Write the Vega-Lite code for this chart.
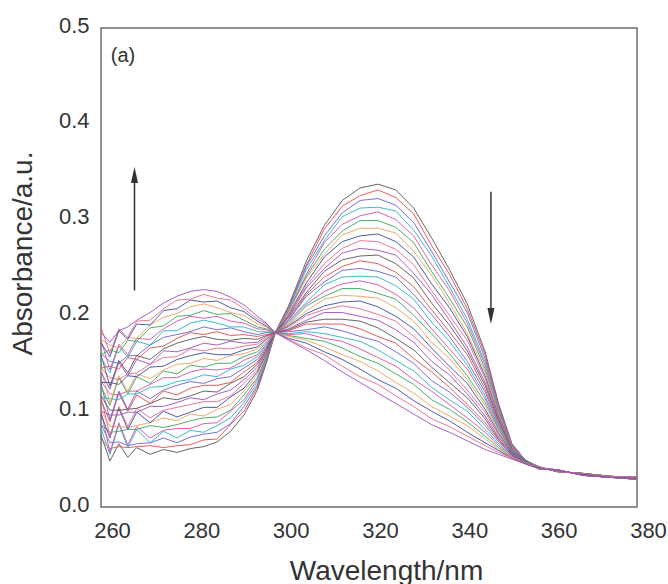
{
"$schema":"https://vega.github.io/schema/vega-lite/v6.json",
"width":536,"height":479,
"autosize":{"type":"none"},
"padding":{"left":101,"top":28,"right":31,"bottom":77},
"background":"white",
"config":{"view":{"stroke":"#6e6e6e","strokeWidth":1.5},"font":"Liberation Sans"},
"datasets":{
"spectra":[
{"k":0,"w":260,"a":0.075},{"k":1,"w":260,"a":0.071},{"k":2,"w":260,"a":0.086},{"k":3,"w":260,"a":0.082},{"k":4,"w":260,"a":0.100},{"k":5,"w":260,"a":0.086},{"k":6,"w":260,"a":0.101},{"k":7,"w":260,"a":0.097},{"k":8,"w":260,"a":0.115},{"k":9,"w":260,"a":0.100},{"k":10,"w":260,"a":0.116},{"k":11,"w":260,"a":0.112},{"k":12,"w":260,"a":0.129},{"k":13,"w":260,"a":0.115},{"k":14,"w":260,"a":0.131},{"k":15,"w":260,"a":0.126},{"k":16,"w":260,"a":0.144},{"k":17,"w":260,"a":0.130},{"k":18,"w":260,"a":0.145},{"k":19,"w":260,"a":0.141},{"k":20,"w":260,"a":0.159},{"k":21,"w":260,"a":0.145},{"k":22,"w":260,"a":0.160},{"k":23,"w":260,"a":0.156},{"k":24,"w":260,"a":0.174},{"k":25,"w":260,"a":0.159},{"k":26,"w":260,"a":0.175},{"k":27,"w":260,"a":0.171},{"k":28,"w":260,"a":0.188},{"k":29,"w":260,"a":0.182},
{"k":0,"w":262,"a":0.048},{"k":1,"w":262,"a":0.061},{"k":2,"w":262,"a":0.067},{"k":3,"w":262,"a":0.055},{"k":4,"w":262,"a":0.057},{"k":5,"w":262,"a":0.078},{"k":6,"w":262,"a":0.084},{"k":7,"w":262,"a":0.072},{"k":8,"w":262,"a":0.074},{"k":9,"w":262,"a":0.096},{"k":10,"w":262,"a":0.101},{"k":11,"w":262,"a":0.089},{"k":12,"w":262,"a":0.091},{"k":13,"w":262,"a":0.113},{"k":14,"w":262,"a":0.118},{"k":15,"w":262,"a":0.106},{"k":16,"w":262,"a":0.108},{"k":17,"w":262,"a":0.130},{"k":18,"w":262,"a":0.135},{"k":19,"w":262,"a":0.123},{"k":20,"w":262,"a":0.126},{"k":21,"w":262,"a":0.147},{"k":22,"w":262,"a":0.152},{"k":23,"w":262,"a":0.140},{"k":24,"w":262,"a":0.143},{"k":25,"w":262,"a":0.164},{"k":26,"w":262,"a":0.169},{"k":27,"w":262,"a":0.157},{"k":28,"w":262,"a":0.160},{"k":29,"w":262,"a":0.172},
{"k":0,"w":264,"a":0.066},{"k":1,"w":264,"a":0.063},{"k":2,"w":264,"a":0.068},{"k":3,"w":264,"a":0.086},{"k":4,"w":264,"a":0.088},{"k":5,"w":264,"a":0.079},{"k":6,"w":264,"a":0.084},{"k":7,"w":264,"a":0.103},{"k":8,"w":264,"a":0.105},{"k":9,"w":264,"a":0.096},{"k":10,"w":264,"a":0.101},{"k":11,"w":264,"a":0.119},{"k":12,"w":264,"a":0.121},{"k":13,"w":264,"a":0.112},{"k":14,"w":264,"a":0.117},{"k":15,"w":264,"a":0.135},{"k":16,"w":264,"a":0.137},{"k":17,"w":264,"a":0.128},{"k":18,"w":264,"a":0.133},{"k":19,"w":264,"a":0.151},{"k":20,"w":264,"a":0.153},{"k":21,"w":264,"a":0.144},{"k":22,"w":264,"a":0.150},{"k":23,"w":264,"a":0.168},{"k":24,"w":264,"a":0.170},{"k":25,"w":264,"a":0.161},{"k":26,"w":264,"a":0.166},{"k":27,"w":264,"a":0.184},{"k":28,"w":264,"a":0.186},{"k":29,"w":264,"a":0.184},
{"k":0,"w":266,"a":0.052},{"k":1,"w":266,"a":0.062},{"k":2,"w":266,"a":0.064},{"k":3,"w":266,"a":0.062},{"k":4,"w":266,"a":0.065},{"k":5,"w":266,"a":0.081},{"k":6,"w":266,"a":0.083},{"k":7,"w":266,"a":0.081},{"k":8,"w":266,"a":0.084},{"k":9,"w":266,"a":0.099},{"k":10,"w":266,"a":0.102},{"k":11,"w":266,"a":0.100},{"k":12,"w":266,"a":0.102},{"k":13,"w":266,"a":0.118},{"k":14,"w":266,"a":0.121},{"k":15,"w":266,"a":0.118},{"k":16,"w":266,"a":0.121},{"k":17,"w":266,"a":0.137},{"k":18,"w":266,"a":0.139},{"k":19,"w":266,"a":0.137},{"k":20,"w":266,"a":0.140},{"k":21,"w":266,"a":0.156},{"k":22,"w":266,"a":0.158},{"k":23,"w":266,"a":0.156},{"k":24,"w":266,"a":0.159},{"k":25,"w":266,"a":0.174},{"k":26,"w":266,"a":0.177},{"k":27,"w":266,"a":0.175},{"k":28,"w":266,"a":0.177},{"k":29,"w":266,"a":0.188},
{"k":0,"w":268,"a":0.062},{"k":1,"w":268,"a":0.063},{"k":2,"w":268,"a":0.066},{"k":3,"w":268,"a":0.081},{"k":4,"w":268,"a":0.084},{"k":5,"w":268,"a":0.081},{"k":6,"w":268,"a":0.085},{"k":7,"w":268,"a":0.099},{"k":8,"w":268,"a":0.103},{"k":9,"w":268,"a":0.099},{"k":10,"w":268,"a":0.103},{"k":11,"w":268,"a":0.117},{"k":12,"w":268,"a":0.121},{"k":13,"w":268,"a":0.118},{"k":14,"w":268,"a":0.121},{"k":15,"w":268,"a":0.136},{"k":16,"w":268,"a":0.139},{"k":17,"w":268,"a":0.136},{"k":18,"w":268,"a":0.140},{"k":19,"w":268,"a":0.154},{"k":20,"w":268,"a":0.158},{"k":21,"w":268,"a":0.154},{"k":22,"w":268,"a":0.158},{"k":23,"w":268,"a":0.173},{"k":24,"w":268,"a":0.176},{"k":25,"w":268,"a":0.173},{"k":26,"w":268,"a":0.176},{"k":27,"w":268,"a":0.191},{"k":28,"w":268,"a":0.194},{"k":29,"w":268,"a":0.195},
{"k":0,"w":271,"a":0.055},{"k":1,"w":271,"a":0.064},{"k":2,"w":271,"a":0.067},{"k":3,"w":271,"a":0.067},{"k":4,"w":271,"a":0.072},{"k":5,"w":271,"a":0.085},{"k":6,"w":271,"a":0.088},{"k":7,"w":271,"a":0.088},{"k":8,"w":271,"a":0.093},{"k":9,"w":271,"a":0.105},{"k":10,"w":271,"a":0.108},{"k":11,"w":271,"a":0.108},{"k":12,"w":271,"a":0.113},{"k":13,"w":271,"a":0.125},{"k":14,"w":271,"a":0.128},{"k":15,"w":271,"a":0.129},{"k":16,"w":271,"a":0.134},{"k":17,"w":271,"a":0.146},{"k":18,"w":271,"a":0.149},{"k":19,"w":271,"a":0.149},{"k":20,"w":271,"a":0.154},{"k":21,"w":271,"a":0.166},{"k":22,"w":271,"a":0.169},{"k":23,"w":271,"a":0.169},{"k":24,"w":271,"a":0.175},{"k":25,"w":271,"a":0.187},{"k":26,"w":271,"a":0.190},{"k":27,"w":271,"a":0.190},{"k":28,"w":271,"a":0.195},{"k":29,"w":271,"a":0.203},
{"k":0,"w":274,"a":0.060},{"k":1,"w":274,"a":0.062},{"k":2,"w":274,"a":0.072},{"k":3,"w":274,"a":0.079},{"k":4,"w":274,"a":0.080},{"k":5,"w":274,"a":0.083},{"k":6,"w":274,"a":0.093},{"k":7,"w":274,"a":0.100},{"k":8,"w":274,"a":0.101},{"k":9,"w":274,"a":0.105},{"k":10,"w":274,"a":0.114},{"k":11,"w":274,"a":0.121},{"k":12,"w":274,"a":0.122},{"k":13,"w":274,"a":0.126},{"k":14,"w":274,"a":0.135},{"k":15,"w":274,"a":0.142},{"k":16,"w":274,"a":0.143},{"k":17,"w":274,"a":0.147},{"k":18,"w":274,"a":0.156},{"k":19,"w":274,"a":0.163},{"k":20,"w":274,"a":0.165},{"k":21,"w":274,"a":0.168},{"k":22,"w":274,"a":0.177},{"k":23,"w":274,"a":0.184},{"k":24,"w":274,"a":0.186},{"k":25,"w":274,"a":0.189},{"k":26,"w":274,"a":0.198},{"k":27,"w":274,"a":0.205},{"k":28,"w":274,"a":0.207},{"k":29,"w":274,"a":0.213},
{"k":0,"w":277,"a":0.057},{"k":1,"w":277,"a":0.064},{"k":2,"w":277,"a":0.067},{"k":3,"w":277,"a":0.072},{"k":4,"w":277,"a":0.082},{"k":5,"w":277,"a":0.086},{"k":6,"w":277,"a":0.090},{"k":7,"w":277,"a":0.094},{"k":8,"w":277,"a":0.104},{"k":9,"w":277,"a":0.109},{"k":10,"w":277,"a":0.112},{"k":11,"w":277,"a":0.117},{"k":12,"w":277,"a":0.127},{"k":13,"w":277,"a":0.131},{"k":14,"w":277,"a":0.135},{"k":15,"w":277,"a":0.139},{"k":16,"w":277,"a":0.149},{"k":17,"w":277,"a":0.154},{"k":18,"w":277,"a":0.157},{"k":19,"w":277,"a":0.162},{"k":20,"w":277,"a":0.171},{"k":21,"w":277,"a":0.176},{"k":22,"w":277,"a":0.180},{"k":23,"w":277,"a":0.184},{"k":24,"w":277,"a":0.194},{"k":25,"w":277,"a":0.199},{"k":26,"w":277,"a":0.202},{"k":27,"w":277,"a":0.207},{"k":28,"w":277,"a":0.216},{"k":29,"w":277,"a":0.220},
{"k":0,"w":280,"a":0.061},{"k":1,"w":280,"a":0.065},{"k":2,"w":280,"a":0.073},{"k":3,"w":280,"a":0.080},{"k":4,"w":280,"a":0.082},{"k":5,"w":280,"a":0.090},{"k":6,"w":280,"a":0.097},{"k":7,"w":280,"a":0.099},{"k":8,"w":280,"a":0.107},{"k":9,"w":280,"a":0.114},{"k":10,"w":280,"a":0.116},{"k":11,"w":280,"a":0.124},{"k":12,"w":280,"a":0.131},{"k":13,"w":280,"a":0.133},{"k":14,"w":280,"a":0.141},{"k":15,"w":280,"a":0.148},{"k":16,"w":280,"a":0.150},{"k":17,"w":280,"a":0.158},{"k":18,"w":280,"a":0.165},{"k":19,"w":280,"a":0.166},{"k":20,"w":280,"a":0.175},{"k":21,"w":280,"a":0.182},{"k":22,"w":280,"a":0.183},{"k":23,"w":280,"a":0.192},{"k":24,"w":280,"a":0.199},{"k":25,"w":280,"a":0.200},{"k":26,"w":280,"a":0.209},{"k":27,"w":280,"a":0.216},{"k":28,"w":280,"a":0.217},{"k":29,"w":280,"a":0.225},
{"k":0,"w":283,"a":0.063},{"k":1,"w":283,"a":0.070},{"k":2,"w":283,"a":0.076},{"k":3,"w":283,"a":0.078},{"k":4,"w":283,"a":0.087},{"k":5,"w":283,"a":0.093},{"k":6,"w":283,"a":0.095},{"k":7,"w":283,"a":0.104},{"k":8,"w":283,"a":0.110},{"k":9,"w":283,"a":0.112},{"k":10,"w":283,"a":0.121},{"k":11,"w":283,"a":0.127},{"k":12,"w":283,"a":0.129},{"k":13,"w":283,"a":0.138},{"k":14,"w":283,"a":0.144},{"k":15,"w":283,"a":0.146},{"k":16,"w":283,"a":0.155},{"k":17,"w":283,"a":0.161},{"k":18,"w":283,"a":0.163},{"k":19,"w":283,"a":0.171},{"k":20,"w":283,"a":0.178},{"k":21,"w":283,"a":0.180},{"k":22,"w":283,"a":0.188},{"k":23,"w":283,"a":0.195},{"k":24,"w":283,"a":0.197},{"k":25,"w":283,"a":0.205},{"k":26,"w":283,"a":0.212},{"k":27,"w":283,"a":0.214},{"k":28,"w":283,"a":0.222},{"k":29,"w":283,"a":0.227},
{"k":0,"w":286,"a":0.068},{"k":1,"w":286,"a":0.071},{"k":2,"w":286,"a":0.078},{"k":3,"w":286,"a":0.085},{"k":4,"w":286,"a":0.088},{"k":5,"w":286,"a":0.094},{"k":6,"w":286,"a":0.102},{"k":7,"w":286,"a":0.104},{"k":8,"w":286,"a":0.110},{"k":9,"w":286,"a":0.118},{"k":10,"w":286,"a":0.120},{"k":11,"w":286,"a":0.127},{"k":12,"w":286,"a":0.134},{"k":13,"w":286,"a":0.136},{"k":14,"w":286,"a":0.143},{"k":15,"w":286,"a":0.150},{"k":16,"w":286,"a":0.153},{"k":17,"w":286,"a":0.159},{"k":18,"w":286,"a":0.166},{"k":19,"w":286,"a":0.169},{"k":20,"w":286,"a":0.175},{"k":21,"w":286,"a":0.183},{"k":22,"w":286,"a":0.185},{"k":23,"w":286,"a":0.192},{"k":24,"w":286,"a":0.199},{"k":25,"w":286,"a":0.201},{"k":26,"w":286,"a":0.208},{"k":27,"w":286,"a":0.215},{"k":28,"w":286,"a":0.218},{"k":29,"w":286,"a":0.225},
{"k":0,"w":289,"a":0.079},{"k":1,"w":289,"a":0.086},{"k":2,"w":289,"a":0.087},{"k":3,"w":289,"a":0.093},{"k":4,"w":289,"a":0.100},{"k":5,"w":289,"a":0.101},{"k":6,"w":289,"a":0.107},{"k":7,"w":289,"a":0.115},{"k":8,"w":289,"a":0.116},{"k":9,"w":289,"a":0.122},{"k":10,"w":289,"a":0.129},{"k":11,"w":289,"a":0.130},{"k":12,"w":289,"a":0.136},{"k":13,"w":289,"a":0.144},{"k":14,"w":289,"a":0.145},{"k":15,"w":289,"a":0.150},{"k":16,"w":289,"a":0.158},{"k":17,"w":289,"a":0.159},{"k":18,"w":289,"a":0.165},{"k":19,"w":289,"a":0.173},{"k":20,"w":289,"a":0.174},{"k":21,"w":289,"a":0.179},{"k":22,"w":289,"a":0.187},{"k":23,"w":289,"a":0.188},{"k":24,"w":289,"a":0.194},{"k":25,"w":289,"a":0.202},{"k":26,"w":289,"a":0.203},{"k":27,"w":289,"a":0.208},{"k":28,"w":289,"a":0.216},{"k":29,"w":289,"a":0.219},
{"k":0,"w":292,"a":0.096},{"k":1,"w":292,"a":0.100},{"k":2,"w":292,"a":0.105},{"k":3,"w":292,"a":0.109},{"k":4,"w":292,"a":0.112},{"k":5,"w":292,"a":0.117},{"k":6,"w":292,"a":0.121},{"k":7,"w":292,"a":0.124},{"k":8,"w":292,"a":0.129},{"k":9,"w":292,"a":0.133},{"k":10,"w":292,"a":0.136},{"k":11,"w":292,"a":0.141},{"k":12,"w":292,"a":0.145},{"k":13,"w":292,"a":0.148},{"k":14,"w":292,"a":0.153},{"k":15,"w":292,"a":0.157},{"k":16,"w":292,"a":0.160},{"k":17,"w":292,"a":0.164},{"k":18,"w":292,"a":0.168},{"k":19,"w":292,"a":0.171},{"k":20,"w":292,"a":0.176},{"k":21,"w":292,"a":0.180},{"k":22,"w":292,"a":0.183},{"k":23,"w":292,"a":0.188},{"k":24,"w":292,"a":0.192},{"k":25,"w":292,"a":0.195},{"k":26,"w":292,"a":0.200},{"k":27,"w":292,"a":0.204},{"k":28,"w":292,"a":0.207},{"k":29,"w":292,"a":0.211},
{"k":0,"w":295,"a":0.122},{"k":1,"w":295,"a":0.125},{"k":2,"w":295,"a":0.127},{"k":3,"w":295,"a":0.130},{"k":4,"w":295,"a":0.133},{"k":5,"w":295,"a":0.135},{"k":6,"w":295,"a":0.138},{"k":7,"w":295,"a":0.141},{"k":8,"w":295,"a":0.143},{"k":9,"w":295,"a":0.146},{"k":10,"w":295,"a":0.149},{"k":11,"w":295,"a":0.151},{"k":12,"w":295,"a":0.154},{"k":13,"w":295,"a":0.157},{"k":14,"w":295,"a":0.159},{"k":15,"w":295,"a":0.162},{"k":16,"w":295,"a":0.165},{"k":17,"w":295,"a":0.167},{"k":18,"w":295,"a":0.170},{"k":19,"w":295,"a":0.172},{"k":20,"w":295,"a":0.175},{"k":21,"w":295,"a":0.178},{"k":22,"w":295,"a":0.180},{"k":23,"w":295,"a":0.183},{"k":24,"w":295,"a":0.186},{"k":25,"w":295,"a":0.188},{"k":26,"w":295,"a":0.191},{"k":27,"w":295,"a":0.194},{"k":28,"w":295,"a":0.196},{"k":29,"w":295,"a":0.199},
{"k":0,"w":297,"a":0.150},{"k":1,"w":297,"a":0.151},{"k":2,"w":297,"a":0.153},{"k":3,"w":297,"a":0.154},{"k":4,"w":297,"a":0.156},{"k":5,"w":297,"a":0.157},{"k":6,"w":297,"a":0.159},{"k":7,"w":297,"a":0.160},{"k":8,"w":297,"a":0.162},{"k":9,"w":297,"a":0.163},{"k":10,"w":297,"a":0.164},{"k":11,"w":297,"a":0.166},{"k":12,"w":297,"a":0.167},{"k":13,"w":297,"a":0.169},{"k":14,"w":297,"a":0.170},{"k":15,"w":297,"a":0.172},{"k":16,"w":297,"a":0.173},{"k":17,"w":297,"a":0.175},{"k":18,"w":297,"a":0.176},{"k":19,"w":297,"a":0.178},{"k":20,"w":297,"a":0.179},{"k":21,"w":297,"a":0.180},{"k":22,"w":297,"a":0.182},{"k":23,"w":297,"a":0.183},{"k":24,"w":297,"a":0.185},{"k":25,"w":297,"a":0.186},{"k":26,"w":297,"a":0.188},{"k":27,"w":297,"a":0.189},{"k":28,"w":297,"a":0.191},{"k":29,"w":297,"a":0.192},
{"k":0,"w":299,"a":0.182},{"k":1,"w":299,"a":0.182},{"k":2,"w":299,"a":0.182},{"k":3,"w":299,"a":0.182},{"k":4,"w":299,"a":0.182},{"k":5,"w":299,"a":0.182},{"k":6,"w":299,"a":0.182},{"k":7,"w":299,"a":0.182},{"k":8,"w":299,"a":0.182},{"k":9,"w":299,"a":0.182},{"k":10,"w":299,"a":0.182},{"k":11,"w":299,"a":0.182},{"k":12,"w":299,"a":0.182},{"k":13,"w":299,"a":0.182},{"k":14,"w":299,"a":0.182},{"k":15,"w":299,"a":0.182},{"k":16,"w":299,"a":0.182},{"k":17,"w":299,"a":0.182},{"k":18,"w":299,"a":0.182},{"k":19,"w":299,"a":0.182},{"k":20,"w":299,"a":0.182},{"k":21,"w":299,"a":0.182},{"k":22,"w":299,"a":0.182},{"k":23,"w":299,"a":0.182},{"k":24,"w":299,"a":0.182},{"k":25,"w":299,"a":0.182},{"k":26,"w":299,"a":0.182},{"k":27,"w":299,"a":0.182},{"k":28,"w":299,"a":0.182},{"k":29,"w":299,"a":0.182},
{"k":0,"w":302,"a":0.210},{"k":1,"w":302,"a":0.209},{"k":2,"w":302,"a":0.208},{"k":3,"w":302,"a":0.206},{"k":4,"w":302,"a":0.205},{"k":5,"w":302,"a":0.204},{"k":6,"w":302,"a":0.203},{"k":7,"w":302,"a":0.201},{"k":8,"w":302,"a":0.200},{"k":9,"w":302,"a":0.199},{"k":10,"w":302,"a":0.198},{"k":11,"w":302,"a":0.196},{"k":12,"w":302,"a":0.195},{"k":13,"w":302,"a":0.194},{"k":14,"w":302,"a":0.193},{"k":15,"w":302,"a":0.191},{"k":16,"w":302,"a":0.190},{"k":17,"w":302,"a":0.189},{"k":18,"w":302,"a":0.188},{"k":19,"w":302,"a":0.186},{"k":20,"w":302,"a":0.185},{"k":21,"w":302,"a":0.184},{"k":22,"w":302,"a":0.183},{"k":23,"w":302,"a":0.181},{"k":24,"w":302,"a":0.180},{"k":25,"w":302,"a":0.179},{"k":26,"w":302,"a":0.178},{"k":27,"w":302,"a":0.176},{"k":28,"w":302,"a":0.175},{"k":29,"w":302,"a":0.174},
{"k":0,"w":306,"a":0.257},{"k":1,"w":306,"a":0.253},{"k":2,"w":306,"a":0.251},{"k":3,"w":306,"a":0.248},{"k":4,"w":306,"a":0.243},{"k":5,"w":306,"a":0.241},{"k":6,"w":306,"a":0.239},{"k":7,"w":306,"a":0.234},{"k":8,"w":306,"a":0.231},{"k":9,"w":306,"a":0.229},{"k":10,"w":306,"a":0.224},{"k":11,"w":306,"a":0.222},{"k":12,"w":306,"a":0.220},{"k":13,"w":306,"a":0.214},{"k":14,"w":306,"a":0.212},{"k":15,"w":306,"a":0.210},{"k":16,"w":306,"a":0.205},{"k":17,"w":306,"a":0.202},{"k":18,"w":306,"a":0.200},{"k":19,"w":306,"a":0.195},{"k":20,"w":306,"a":0.193},{"k":21,"w":306,"a":0.191},{"k":22,"w":306,"a":0.185},{"k":23,"w":306,"a":0.183},{"k":24,"w":306,"a":0.181},{"k":25,"w":306,"a":0.176},{"k":26,"w":306,"a":0.174},{"k":27,"w":306,"a":0.171},{"k":28,"w":306,"a":0.166},{"k":29,"w":306,"a":0.164},
{"k":0,"w":310,"a":0.294},{"k":1,"w":310,"a":0.290},{"k":2,"w":310,"a":0.283},{"k":3,"w":310,"a":0.278},{"k":4,"w":310,"a":0.276},{"k":5,"w":310,"a":0.269},{"k":6,"w":310,"a":0.264},{"k":7,"w":310,"a":0.261},{"k":8,"w":310,"a":0.254},{"k":9,"w":310,"a":0.249},{"k":10,"w":310,"a":0.246},{"k":11,"w":310,"a":0.240},{"k":12,"w":310,"a":0.235},{"k":13,"w":310,"a":0.232},{"k":14,"w":310,"a":0.225},{"k":15,"w":310,"a":0.220},{"k":16,"w":310,"a":0.217},{"k":17,"w":310,"a":0.210},{"k":18,"w":310,"a":0.206},{"k":19,"w":310,"a":0.203},{"k":20,"w":310,"a":0.196},{"k":21,"w":310,"a":0.191},{"k":22,"w":310,"a":0.188},{"k":23,"w":310,"a":0.181},{"k":24,"w":310,"a":0.176},{"k":25,"w":310,"a":0.173},{"k":26,"w":310,"a":0.167},{"k":27,"w":310,"a":0.162},{"k":28,"w":310,"a":0.159},{"k":29,"w":310,"a":0.153},
{"k":0,"w":314,"a":0.320},{"k":1,"w":314,"a":0.314},{"k":2,"w":314,"a":0.307},{"k":3,"w":314,"a":0.303},{"k":4,"w":314,"a":0.295},{"k":5,"w":314,"a":0.288},{"k":6,"w":314,"a":0.284},{"k":7,"w":314,"a":0.277},{"k":8,"w":314,"a":0.270},{"k":9,"w":314,"a":0.265},{"k":10,"w":314,"a":0.258},{"k":11,"w":314,"a":0.251},{"k":12,"w":314,"a":0.247},{"k":13,"w":314,"a":0.240},{"k":14,"w":314,"a":0.233},{"k":15,"w":314,"a":0.228},{"k":16,"w":314,"a":0.221},{"k":17,"w":314,"a":0.214},{"k":18,"w":314,"a":0.210},{"k":19,"w":314,"a":0.203},{"k":20,"w":314,"a":0.196},{"k":21,"w":314,"a":0.191},{"k":22,"w":314,"a":0.184},{"k":23,"w":314,"a":0.177},{"k":24,"w":314,"a":0.173},{"k":25,"w":314,"a":0.166},{"k":26,"w":314,"a":0.159},{"k":27,"w":314,"a":0.154},{"k":28,"w":314,"a":0.147},{"k":29,"w":314,"a":0.141},
{"k":0,"w":318,"a":0.333},{"k":1,"w":318,"a":0.325},{"k":2,"w":318,"a":0.320},{"k":3,"w":318,"a":0.312},{"k":4,"w":318,"a":0.304},{"k":5,"w":318,"a":0.299},{"k":6,"w":318,"a":0.291},{"k":7,"w":318,"a":0.283},{"k":8,"w":318,"a":0.278},{"k":9,"w":318,"a":0.270},{"k":10,"w":318,"a":0.262},{"k":11,"w":318,"a":0.257},{"k":12,"w":318,"a":0.249},{"k":13,"w":318,"a":0.241},{"k":14,"w":318,"a":0.236},{"k":15,"w":318,"a":0.228},{"k":16,"w":318,"a":0.220},{"k":17,"w":318,"a":0.215},{"k":18,"w":318,"a":0.207},{"k":19,"w":318,"a":0.199},{"k":20,"w":318,"a":0.194},{"k":21,"w":318,"a":0.186},{"k":22,"w":318,"a":0.178},{"k":23,"w":318,"a":0.173},{"k":24,"w":318,"a":0.165},{"k":25,"w":318,"a":0.157},{"k":26,"w":318,"a":0.152},{"k":27,"w":318,"a":0.144},{"k":28,"w":318,"a":0.136},{"k":29,"w":318,"a":0.130},
{"k":0,"w":322,"a":0.337},{"k":1,"w":322,"a":0.331},{"k":2,"w":322,"a":0.322},{"k":3,"w":322,"a":0.313},{"k":4,"w":322,"a":0.308},{"k":5,"w":322,"a":0.299},{"k":6,"w":322,"a":0.291},{"k":7,"w":322,"a":0.285},{"k":8,"w":322,"a":0.277},{"k":9,"w":322,"a":0.268},{"k":10,"w":322,"a":0.263},{"k":11,"w":322,"a":0.254},{"k":12,"w":322,"a":0.246},{"k":13,"w":322,"a":0.240},{"k":14,"w":322,"a":0.232},{"k":15,"w":322,"a":0.223},{"k":16,"w":322,"a":0.218},{"k":17,"w":322,"a":0.209},{"k":18,"w":322,"a":0.201},{"k":19,"w":322,"a":0.195},{"k":20,"w":322,"a":0.187},{"k":21,"w":322,"a":0.178},{"k":22,"w":322,"a":0.173},{"k":23,"w":322,"a":0.164},{"k":24,"w":322,"a":0.156},{"k":25,"w":322,"a":0.150},{"k":26,"w":322,"a":0.142},{"k":27,"w":322,"a":0.133},{"k":28,"w":322,"a":0.128},{"k":29,"w":322,"a":0.119},
{"k":0,"w":326,"a":0.331},{"k":1,"w":326,"a":0.323},{"k":2,"w":326,"a":0.315},{"k":3,"w":326,"a":0.309},{"k":4,"w":326,"a":0.300},{"k":5,"w":326,"a":0.292},{"k":6,"w":326,"a":0.286},{"k":7,"w":326,"a":0.277},{"k":8,"w":326,"a":0.269},{"k":9,"w":326,"a":0.263},{"k":10,"w":326,"a":0.254},{"k":11,"w":326,"a":0.245},{"k":12,"w":326,"a":0.240},{"k":13,"w":326,"a":0.231},{"k":14,"w":326,"a":0.222},{"k":15,"w":326,"a":0.217},{"k":16,"w":326,"a":0.208},{"k":17,"w":326,"a":0.199},{"k":18,"w":326,"a":0.194},{"k":19,"w":326,"a":0.185},{"k":20,"w":326,"a":0.176},{"k":21,"w":326,"a":0.171},{"k":22,"w":326,"a":0.162},{"k":23,"w":326,"a":0.153},{"k":24,"w":326,"a":0.147},{"k":25,"w":326,"a":0.139},{"k":26,"w":326,"a":0.130},{"k":27,"w":326,"a":0.124},{"k":28,"w":326,"a":0.116},{"k":29,"w":326,"a":0.108},
{"k":0,"w":330,"a":0.312},{"k":1,"w":330,"a":0.306},{"k":2,"w":330,"a":0.297},{"k":3,"w":330,"a":0.289},{"k":4,"w":330,"a":0.283},{"k":5,"w":330,"a":0.276},{"k":6,"w":330,"a":0.267},{"k":7,"w":330,"a":0.261},{"k":8,"w":330,"a":0.253},{"k":9,"w":330,"a":0.244},{"k":10,"w":330,"a":0.239},{"k":11,"w":330,"a":0.230},{"k":12,"w":330,"a":0.222},{"k":13,"w":330,"a":0.217},{"k":14,"w":330,"a":0.208},{"k":15,"w":330,"a":0.200},{"k":16,"w":330,"a":0.194},{"k":17,"w":330,"a":0.186},{"k":18,"w":330,"a":0.178},{"k":19,"w":330,"a":0.172},{"k":20,"w":330,"a":0.164},{"k":21,"w":330,"a":0.155},{"k":22,"w":330,"a":0.150},{"k":23,"w":330,"a":0.142},{"k":24,"w":330,"a":0.133},{"k":25,"w":330,"a":0.128},{"k":26,"w":330,"a":0.119},{"k":27,"w":330,"a":0.111},{"k":28,"w":330,"a":0.105},{"k":29,"w":330,"a":0.097},
{"k":0,"w":334,"a":0.281},{"k":1,"w":334,"a":0.273},{"k":2,"w":334,"a":0.267},{"k":3,"w":334,"a":0.262},{"k":4,"w":334,"a":0.253},{"k":5,"w":334,"a":0.246},{"k":6,"w":334,"a":0.242},{"k":7,"w":334,"a":0.233},{"k":8,"w":334,"a":0.226},{"k":9,"w":334,"a":0.222},{"k":10,"w":334,"a":0.213},{"k":11,"w":334,"a":0.206},{"k":12,"w":334,"a":0.201},{"k":13,"w":334,"a":0.193},{"k":14,"w":334,"a":0.186},{"k":15,"w":334,"a":0.181},{"k":16,"w":334,"a":0.172},{"k":17,"w":334,"a":0.166},{"k":18,"w":334,"a":0.161},{"k":19,"w":334,"a":0.152},{"k":20,"w":334,"a":0.146},{"k":21,"w":334,"a":0.141},{"k":22,"w":334,"a":0.132},{"k":23,"w":334,"a":0.125},{"k":24,"w":334,"a":0.121},{"k":25,"w":334,"a":0.112},{"k":26,"w":334,"a":0.105},{"k":27,"w":334,"a":0.100},{"k":28,"w":334,"a":0.092},{"k":29,"w":334,"a":0.086},
{"k":0,"w":338,"a":0.248},{"k":1,"w":338,"a":0.243},{"k":2,"w":338,"a":0.235},{"k":3,"w":338,"a":0.230},{"k":4,"w":338,"a":0.226},{"k":5,"w":338,"a":0.218},{"k":6,"w":338,"a":0.213},{"k":7,"w":338,"a":0.208},{"k":8,"w":338,"a":0.200},{"k":9,"w":338,"a":0.195},{"k":10,"w":338,"a":0.190},{"k":11,"w":338,"a":0.183},{"k":12,"w":338,"a":0.178},{"k":13,"w":338,"a":0.173},{"k":14,"w":338,"a":0.165},{"k":15,"w":338,"a":0.160},{"k":16,"w":338,"a":0.155},{"k":17,"w":338,"a":0.147},{"k":18,"w":338,"a":0.143},{"k":19,"w":338,"a":0.138},{"k":20,"w":338,"a":0.130},{"k":21,"w":338,"a":0.125},{"k":22,"w":338,"a":0.120},{"k":23,"w":338,"a":0.112},{"k":24,"w":338,"a":0.107},{"k":25,"w":338,"a":0.102},{"k":26,"w":338,"a":0.095},{"k":27,"w":338,"a":0.090},{"k":28,"w":338,"a":0.084},{"k":29,"w":338,"a":0.078},
{"k":0,"w":342,"a":0.212},{"k":1,"w":342,"a":0.207},{"k":2,"w":342,"a":0.203},{"k":3,"w":342,"a":0.196},{"k":4,"w":342,"a":0.192},{"k":5,"w":342,"a":0.188},{"k":6,"w":342,"a":0.181},{"k":7,"w":342,"a":0.178},{"k":8,"w":342,"a":0.174},{"k":9,"w":342,"a":0.167},{"k":10,"w":342,"a":0.163},{"k":11,"w":342,"a":0.159},{"k":12,"w":342,"a":0.152},{"k":13,"w":342,"a":0.148},{"k":14,"w":342,"a":0.144},{"k":15,"w":342,"a":0.137},{"k":16,"w":342,"a":0.133},{"k":17,"w":342,"a":0.129},{"k":18,"w":342,"a":0.122},{"k":19,"w":342,"a":0.118},{"k":20,"w":342,"a":0.114},{"k":21,"w":342,"a":0.107},{"k":22,"w":342,"a":0.104},{"k":23,"w":342,"a":0.100},{"k":24,"w":342,"a":0.093},{"k":25,"w":342,"a":0.089},{"k":26,"w":342,"a":0.085},{"k":27,"w":342,"a":0.078},{"k":28,"w":342,"a":0.074},{"k":29,"w":342,"a":0.069},
{"k":0,"w":346,"a":0.162},{"k":1,"w":346,"a":0.159},{"k":2,"w":346,"a":0.155},{"k":3,"w":346,"a":0.151},{"k":4,"w":346,"a":0.148},{"k":5,"w":346,"a":0.144},{"k":6,"w":346,"a":0.141},{"k":7,"w":346,"a":0.137},{"k":8,"w":346,"a":0.134},{"k":9,"w":346,"a":0.130},{"k":10,"w":346,"a":0.127},{"k":11,"w":346,"a":0.123},{"k":12,"w":346,"a":0.120},{"k":13,"w":346,"a":0.116},{"k":14,"w":346,"a":0.113},{"k":15,"w":346,"a":0.109},{"k":16,"w":346,"a":0.106},{"k":17,"w":346,"a":0.102},{"k":18,"w":346,"a":0.099},{"k":19,"w":346,"a":0.095},{"k":20,"w":346,"a":0.092},{"k":21,"w":346,"a":0.088},{"k":22,"w":346,"a":0.085},{"k":23,"w":346,"a":0.081},{"k":24,"w":346,"a":0.078},{"k":25,"w":346,"a":0.074},{"k":26,"w":346,"a":0.071},{"k":27,"w":346,"a":0.067},{"k":28,"w":346,"a":0.064},{"k":29,"w":346,"a":0.060},
{"k":0,"w":349,"a":0.108},{"k":1,"w":349,"a":0.106},{"k":2,"w":349,"a":0.104},{"k":3,"w":349,"a":0.103},{"k":4,"w":349,"a":0.101},{"k":5,"w":349,"a":0.099},{"k":6,"w":349,"a":0.097},{"k":7,"w":349,"a":0.095},{"k":8,"w":349,"a":0.093},{"k":9,"w":349,"a":0.092},{"k":10,"w":349,"a":0.090},{"k":11,"w":349,"a":0.088},{"k":12,"w":349,"a":0.086},{"k":13,"w":349,"a":0.084},{"k":14,"w":349,"a":0.082},{"k":15,"w":349,"a":0.081},{"k":16,"w":349,"a":0.079},{"k":17,"w":349,"a":0.077},{"k":18,"w":349,"a":0.075},{"k":19,"w":349,"a":0.073},{"k":20,"w":349,"a":0.071},{"k":21,"w":349,"a":0.070},{"k":22,"w":349,"a":0.068},{"k":23,"w":349,"a":0.066},{"k":24,"w":349,"a":0.064},{"k":25,"w":349,"a":0.062},{"k":26,"w":349,"a":0.060},{"k":27,"w":349,"a":0.059},{"k":28,"w":349,"a":0.057},{"k":29,"w":349,"a":0.055},
{"k":0,"w":352,"a":0.066},{"k":1,"w":352,"a":0.065},{"k":2,"w":352,"a":0.065},{"k":3,"w":352,"a":0.064},{"k":4,"w":352,"a":0.064},{"k":5,"w":352,"a":0.063},{"k":6,"w":352,"a":0.063},{"k":7,"w":352,"a":0.062},{"k":8,"w":352,"a":0.062},{"k":9,"w":352,"a":0.061},{"k":10,"w":352,"a":0.060},{"k":11,"w":352,"a":0.060},{"k":12,"w":352,"a":0.059},{"k":13,"w":352,"a":0.059},{"k":14,"w":352,"a":0.058},{"k":15,"w":352,"a":0.058},{"k":16,"w":352,"a":0.057},{"k":17,"w":352,"a":0.057},{"k":18,"w":352,"a":0.056},{"k":19,"w":352,"a":0.056},{"k":20,"w":352,"a":0.055},{"k":21,"w":352,"a":0.054},{"k":22,"w":352,"a":0.054},{"k":23,"w":352,"a":0.053},{"k":24,"w":352,"a":0.053},{"k":25,"w":352,"a":0.052},{"k":26,"w":352,"a":0.052},{"k":27,"w":352,"a":0.051},{"k":28,"w":352,"a":0.051},{"k":29,"w":352,"a":0.050},
{"k":0,"w":355,"a":0.049},{"k":1,"w":355,"a":0.049},{"k":2,"w":355,"a":0.049},{"k":3,"w":355,"a":0.049},{"k":4,"w":355,"a":0.048},{"k":5,"w":355,"a":0.048},{"k":6,"w":355,"a":0.048},{"k":7,"w":355,"a":0.048},{"k":8,"w":355,"a":0.048},{"k":9,"w":355,"a":0.048},{"k":10,"w":355,"a":0.048},{"k":11,"w":355,"a":0.047},{"k":12,"w":355,"a":0.047},{"k":13,"w":355,"a":0.047},{"k":14,"w":355,"a":0.047},{"k":15,"w":355,"a":0.047},{"k":16,"w":355,"a":0.047},{"k":17,"w":355,"a":0.047},{"k":18,"w":355,"a":0.047},{"k":19,"w":355,"a":0.046},{"k":20,"w":355,"a":0.046},{"k":21,"w":355,"a":0.046},{"k":22,"w":355,"a":0.046},{"k":23,"w":355,"a":0.046},{"k":24,"w":355,"a":0.046},{"k":25,"w":355,"a":0.046},{"k":26,"w":355,"a":0.045},{"k":27,"w":355,"a":0.045},{"k":28,"w":355,"a":0.045},{"k":29,"w":355,"a":0.045},
{"k":0,"w":358,"a":0.041},{"k":1,"w":358,"a":0.042},{"k":2,"w":358,"a":0.040},{"k":3,"w":358,"a":0.041},{"k":4,"w":358,"a":0.042},{"k":5,"w":358,"a":0.040},{"k":6,"w":358,"a":0.041},{"k":7,"w":358,"a":0.042},{"k":8,"w":358,"a":0.040},{"k":9,"w":358,"a":0.041},{"k":10,"w":358,"a":0.042},{"k":11,"w":358,"a":0.040},{"k":12,"w":358,"a":0.041},{"k":13,"w":358,"a":0.042},{"k":14,"w":358,"a":0.040},{"k":15,"w":358,"a":0.041},{"k":16,"w":358,"a":0.042},{"k":17,"w":358,"a":0.040},{"k":18,"w":358,"a":0.041},{"k":19,"w":358,"a":0.042},{"k":20,"w":358,"a":0.040},{"k":21,"w":358,"a":0.041},{"k":22,"w":358,"a":0.042},{"k":23,"w":358,"a":0.040},{"k":24,"w":358,"a":0.041},{"k":25,"w":358,"a":0.042},{"k":26,"w":358,"a":0.040},{"k":27,"w":358,"a":0.041},{"k":28,"w":358,"a":0.042},{"k":29,"w":358,"a":0.040},
{"k":0,"w":362,"a":0.038},{"k":1,"w":362,"a":0.037},{"k":2,"w":362,"a":0.039},{"k":3,"w":362,"a":0.038},{"k":4,"w":362,"a":0.037},{"k":5,"w":362,"a":0.039},{"k":6,"w":362,"a":0.038},{"k":7,"w":362,"a":0.037},{"k":8,"w":362,"a":0.039},{"k":9,"w":362,"a":0.038},{"k":10,"w":362,"a":0.037},{"k":11,"w":362,"a":0.039},{"k":12,"w":362,"a":0.038},{"k":13,"w":362,"a":0.037},{"k":14,"w":362,"a":0.039},{"k":15,"w":362,"a":0.038},{"k":16,"w":362,"a":0.037},{"k":17,"w":362,"a":0.039},{"k":18,"w":362,"a":0.038},{"k":19,"w":362,"a":0.037},{"k":20,"w":362,"a":0.039},{"k":21,"w":362,"a":0.038},{"k":22,"w":362,"a":0.037},{"k":23,"w":362,"a":0.039},{"k":24,"w":362,"a":0.038},{"k":25,"w":362,"a":0.037},{"k":26,"w":362,"a":0.039},{"k":27,"w":362,"a":0.038},{"k":28,"w":362,"a":0.037},{"k":29,"w":362,"a":0.039},
{"k":0,"w":368,"a":0.034},{"k":1,"w":368,"a":0.035},{"k":2,"w":368,"a":0.033},{"k":3,"w":368,"a":0.034},{"k":4,"w":368,"a":0.035},{"k":5,"w":368,"a":0.033},{"k":6,"w":368,"a":0.034},{"k":7,"w":368,"a":0.035},{"k":8,"w":368,"a":0.033},{"k":9,"w":368,"a":0.034},{"k":10,"w":368,"a":0.035},{"k":11,"w":368,"a":0.033},{"k":12,"w":368,"a":0.034},{"k":13,"w":368,"a":0.035},{"k":14,"w":368,"a":0.033},{"k":15,"w":368,"a":0.034},{"k":16,"w":368,"a":0.035},{"k":17,"w":368,"a":0.033},{"k":18,"w":368,"a":0.034},{"k":19,"w":368,"a":0.035},{"k":20,"w":368,"a":0.033},{"k":21,"w":368,"a":0.034},{"k":22,"w":368,"a":0.035},{"k":23,"w":368,"a":0.033},{"k":24,"w":368,"a":0.034},{"k":25,"w":368,"a":0.035},{"k":26,"w":368,"a":0.033},{"k":27,"w":368,"a":0.034},{"k":28,"w":368,"a":0.035},{"k":29,"w":368,"a":0.033},
{"k":0,"w":374,"a":0.031},{"k":1,"w":374,"a":0.032},{"k":2,"w":374,"a":0.031},{"k":3,"w":374,"a":0.031},{"k":4,"w":374,"a":0.032},{"k":5,"w":374,"a":0.031},{"k":6,"w":374,"a":0.031},{"k":7,"w":374,"a":0.032},{"k":8,"w":374,"a":0.031},{"k":9,"w":374,"a":0.031},{"k":10,"w":374,"a":0.032},{"k":11,"w":374,"a":0.031},{"k":12,"w":374,"a":0.031},{"k":13,"w":374,"a":0.032},{"k":14,"w":374,"a":0.031},{"k":15,"w":374,"a":0.031},{"k":16,"w":374,"a":0.032},{"k":17,"w":374,"a":0.031},{"k":18,"w":374,"a":0.031},{"k":19,"w":374,"a":0.032},{"k":20,"w":374,"a":0.031},{"k":21,"w":374,"a":0.031},{"k":22,"w":374,"a":0.032},{"k":23,"w":374,"a":0.031},{"k":24,"w":374,"a":0.031},{"k":25,"w":374,"a":0.032},{"k":26,"w":374,"a":0.031},{"k":27,"w":374,"a":0.031},{"k":28,"w":374,"a":0.032},{"k":29,"w":374,"a":0.031},
{"k":0,"w":380,"a":0.030},{"k":1,"w":380,"a":0.031},{"k":2,"w":380,"a":0.029},{"k":3,"w":380,"a":0.030},{"k":4,"w":380,"a":0.031},{"k":5,"w":380,"a":0.029},{"k":6,"w":380,"a":0.030},{"k":7,"w":380,"a":0.031},{"k":8,"w":380,"a":0.029},{"k":9,"w":380,"a":0.030},{"k":10,"w":380,"a":0.031},{"k":11,"w":380,"a":0.029},{"k":12,"w":380,"a":0.030},{"k":13,"w":380,"a":0.031},{"k":14,"w":380,"a":0.029},{"k":15,"w":380,"a":0.030},{"k":16,"w":380,"a":0.031},{"k":17,"w":380,"a":0.029},{"k":18,"w":380,"a":0.030},{"k":19,"w":380,"a":0.031},{"k":20,"w":380,"a":0.029},{"k":21,"w":380,"a":0.030},{"k":22,"w":380,"a":0.031},{"k":23,"w":380,"a":0.029},{"k":24,"w":380,"a":0.030},{"k":25,"w":380,"a":0.031},{"k":26,"w":380,"a":0.029},{"k":27,"w":380,"a":0.030},{"k":28,"w":380,"a":0.031},{"k":29,"w":380,"a":0.029}
],
"shafts":[{"w":267.5,"a":0.226,"a2":0.340},{"w":347.3,"a":0.329,"a2":0.205}],
"upHead":[{"w":267.5,"a":0.3466}],
"downHead":[{"w":347.3,"a":0.1993}],
"labels":[{"w":262.2,"a":0.471,"t":"(a)"}]
},
"layer":[
{"data":{"name":"spectra"},
 "mark":{"type":"line","strokeWidth":1,"opacity":0.9},
 "encoding":{
  "x":{"field":"w","type":"quantitative","title":"Wavelength/nm",
       "scale":{"domain":[260,380],"nice":false,"zero":false},
       "axis":{"values":[260,280,300,320,340,360,380],"format":"d","grid":false,"domain":false,"ticks":false,"tickSize":0,
               "labelFontSize":22,"labelColor":"#333333","labelPadding":30,"labelBaseline":"alphabetic","labelOffset":11,
               "labelFlush":false,"labelOverlap":false,"labelBound":false,
               "titleFontSize":28,"titleFontWeight":"normal","titleColor":"#333333","titleX":285,"titleY":72,"titleBaseline":"alphabetic","titleAlign":"center"}},
  "y":{"field":"a","type":"quantitative","title":"Absorbance/a.u.",
       "scale":{"domain":[0,0.5],"nice":false,"zero":false},
       "axis":{"values":[0,0.1,0.2,0.3,0.4,0.5],"format":".1f","grid":false,"domain":false,"ticks":false,"tickSize":0,
               "labelFontSize":22,"labelColor":"#333333","labelPadding":12,"labelOffset":-3,
               "labelFlush":false,"labelOverlap":false,"labelBound":false,
               "titleFontSize":28,"titleFontWeight":"normal","titleColor":"#333333","titleX":-78,"titleY":225,"titleBaseline":"middle","titleAlign":"center","titleAngle":-90}},
  "color":{"field":"k","type":"ordinal","legend":null,
       "scale":{"range":["#555555","#e34a4a","#6b5fd0","#2bb3c4","#d94fa6","#3aa55a","#eaa25e","#3b4a9e","#e46a8c","#9c4fc0"]}}
 }},
{"data":{"name":"shafts"},
 "mark":{"type":"rule","color":"#333333","strokeWidth":1.5},
 "encoding":{
  "x":{"field":"w","type":"quantitative","title":"Wavelength/nm"},
  "y":{"field":"a","type":"quantitative","title":"Absorbance/a.u."},
  "y2":{"field":"a2"}
 }},
{"data":{"name":"upHead"},
 "mark":{"type":"point","filled":true,"shape":"M0,-1L0.44,1L-0.44,1Z","size":256,"color":"#333333","opacity":1,"strokeWidth":0},
 "encoding":{
  "x":{"field":"w","type":"quantitative","title":"Wavelength/nm"},
  "y":{"field":"a","type":"quantitative","title":"Absorbance/a.u."}
 }},
{"data":{"name":"downHead"},
 "mark":{"type":"point","filled":true,"shape":"M0,1L0.44,-1L-0.44,-1Z","size":256,"color":"#333333","opacity":1,"strokeWidth":0},
 "encoding":{
  "x":{"field":"w","type":"quantitative","title":"Wavelength/nm"},
  "y":{"field":"a","type":"quantitative","title":"Absorbance/a.u."}
 }},
{"data":{"name":"labels"},
 "mark":{"type":"text","align":"left","baseline":"middle","fontSize":20,"color":"#333333","font":"Liberation Sans"},
 "encoding":{
  "x":{"field":"w","type":"quantitative","title":"Wavelength/nm"},
  "y":{"field":"a","type":"quantitative","title":"Absorbance/a.u."},
  "text":{"field":"t"}
 }}
]
}
